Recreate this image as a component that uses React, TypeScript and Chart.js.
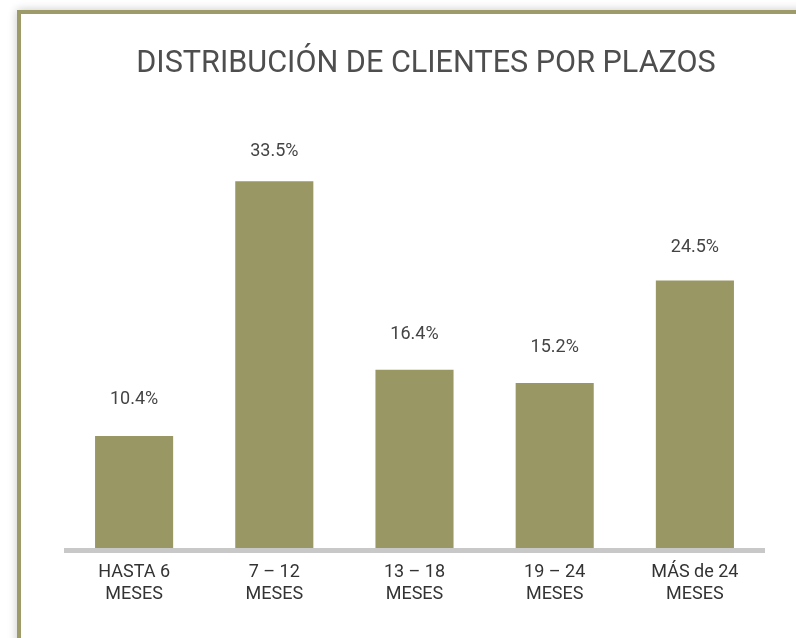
import React, { useEffect, useRef } from "react";
import { Chart, registerables } from "chart.js";

Chart.register(...registerables);

const categories: string[][] = [
  ["HASTA 6", "MESES"],
  ["7 – 12", "MESES"],
  ["13 – 18", "MESES"],
  ["19 – 24", "MESES"],
  ["MÁS de 24", "MESES"],
];
const values: number[] = [10.4, 33.5, 16.4, 15.2, 24.5];
const titleText = "DISTRIBUCIÓN DE CLIENTES POR PLAZOS";
const yMax = 40;

const FONT = "Roboto, 'Noto Sans', sans-serif";

const valueLabels = {
  id: "valueLabels",
  afterDatasetsDraw(chart: any) {
    const ctx = chart.ctx;
    const meta = chart.getDatasetMeta(0);
    ctx.save();
    ctx.font = `18px ${FONT}`;
    ctx.fillStyle = "#444444";
    ctx.textAlign = "center";
    ctx.textBaseline = "alphabetic";
    meta.data.forEach((bar: any, i: number) => {
      const h = bar.base - bar.y;
      const y = bar.base - h * 0.976 - 34.7;
      ctx.fillText(`${values[i]}%`, bar.x, y);
    });
    ctx.restore();
  },
};

const baseLine = {
  id: "baseLine",
  afterDatasetsDraw(chart: any) {
    const ctx = chart.ctx;
    const y = chart.scales.y.getPixelForValue(0);
    const { left, right } = chart.chartArea;
    ctx.save();
    ctx.strokeStyle = "#c8c8c8";
    ctx.lineWidth = 5;
    ctx.beginPath();
    ctx.moveTo(left, y);
    ctx.lineTo(right, y);
    ctx.stroke();
    ctx.restore();
  },
};

const hiddenAxis = (position: "left" | "right", width: number) => ({
  display: true,
  position,
  min: 0,
  max: yMax,
  grid: { display: false, drawTicks: false },
  border: { display: false },
  ticks: { display: false },
  afterFit(scale: any) {
    scale.width = width;
  },
});

export default function App() {
  const ref = useRef<HTMLCanvasElement | null>(null);

  useEffect(() => {
    if (!ref.current) return;
    const chart = new Chart(ref.current, {
      type: "bar",
      data: {
        labels: categories,
        datasets: [
          {
            data: values,
            backgroundColor: "#999764",
            borderWidth: 0,
            barPercentage: 0.557,
            categoryPercentage: 1,
            yAxisID: "y",
          },
        ],
      },
      options: {
        animation: false,
        responsive: false,
        layout: { padding: { left: 0, right: 0, top: 0, bottom: 21.5 } },
        plugins: {
          legend: { display: false },
          tooltip: { enabled: false },
          title: {
            display: true,
            text: titleText,
            color: "#4e4e4e",
            font: { family: FONT, size: 30.6, weight: "normal" as any, lineHeight: 1.2 },
            padding: { top: 32.4, bottom: 26.6 },
          },
        },
        scales: {
          x: {
            grid: { display: false, drawTicks: false },
            border: { display: false },
            ticks: {
              color: "#333333",
              padding: 11,
              font: { family: FONT, size: 18, lineHeight: 22 / 18 },
              maxRotation: 0,
              autoSkip: false,
            },
          },
          y: hiddenAxis("left", 43) as any,
          y2: hiddenAxis("right", 66) as any,
        },
      },
      plugins: [valueLabels, baseLine],
    });
    return () => chart.destroy();
  }, []);

  return (
    <div
      style={{
        position: "fixed",
        left: 17,
        top: 10,
        width: 1000,
        height: 1000,
        background: "#ffffff",
        borderTop: "4px solid #9d9b69",
        borderLeft: "4px solid #9d9b69",
        boxShadow: "0 0 9px rgba(0,0,0,0.22)",
      }}
    >
      <canvas
        ref={ref}
        width={810}
        height={624}
        style={{ display: "block", width: 810, height: 624 }}
      />
    </div>
  );
}
